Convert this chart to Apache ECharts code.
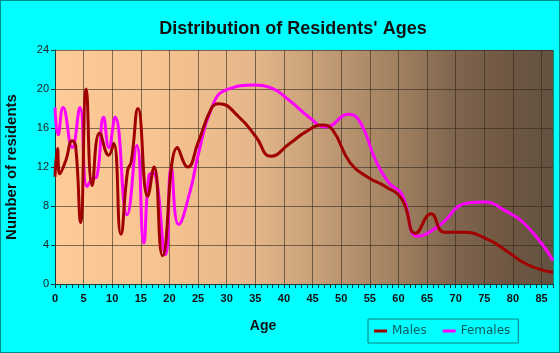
<!DOCTYPE html>
<html>
<head>
<meta charset="utf-8">
<script src="https://cdn.jsdelivr.net/npm/echarts@6/dist/echarts.min.js"></script>
<style>
  html, body { margin: 0; padding: 0; background: #00ffff; }
  #chart { width: 560px; height: 353px; box-sizing: border-box; border: 1px solid #008b8b; }
</style>
</head>
<body>
<div id="chart"></div>
<script>
// ages (x) and resident counts (y)
const maleAges = [0, 0.43, 0.83, 1.9, 3.0, 3.6, 4.47, 5.45, 6.5, 7.8, 9.4, 10.25, 11.5, 12.7, 13.3, 14.5, 16.2, 17.3, 18.8, 21.4, 23.2, 25, 27.4, 28.6, 32.2, 35.1, 37.7, 41, 43.8, 46.7, 48.5, 51.6, 54.8, 57.7, 60.6, 63, 65.7, 68, 71.5, 75.5, 78.4, 82.5, 87];
const maleCounts = [11.0, 13.9, 11.3, 12.7, 14.7, 14.2, 6.3, 20.0, 10.1, 15.5, 13.2, 14.4, 5.1, 11.7, 12.5, 18.0, 9.0, 12.0, 2.9, 14.0, 12.0, 14.5, 18.1, 18.5, 17.1, 15.1, 13.1, 14.4, 15.6, 16.3, 15.8, 12.4, 10.9, 10.0, 8.7, 5.2, 7.2, 5.3, 5.3, 4.6, 3.6, 2.0, 1.2];

const femaleAges = [0, 0.54, 1.41, 3.0, 4.35, 5.6, 6.5, 7.3, 8.5, 9.4, 10.5, 12.6, 14.3, 15.5, 16.4, 17.1, 19.3, 20.3, 21.6, 23.6, 25, 27.4, 29.9, 35.1, 37.4, 41, 44.4, 47.3, 51.3, 53.4, 56, 58.3, 60.6, 63.4, 66.9, 72.1, 75, 78.4, 82.5, 87];
const femaleCounts = [18.1, 15.3, 18.1, 14.0, 18.1, 10.0, 10.8, 11.0, 17.1, 14.0, 17.1, 7.1, 14.2, 4.2, 11.1, 11.4, 3.0, 12.0, 6.1, 9.5, 13.2, 18.1, 19.9, 20.4, 20.2, 18.8, 17.1, 16.1, 17.4, 16.5, 12.7, 10.4, 9.2, 4.9, 5.9, 8.3, 8.4, 7.6, 5.9, 2.4];

const pairs = (xs, ys) => xs.map((x, i) => [x, ys[i]]);

const chart = echarts.init(document.getElementById('chart'), null, { renderer: 'canvas' });

const font = 'Liberation Sans, Arial, sans-serif';

chart.setOption({
  animation: false,
  title: {
    text: "Distribution of Residents' Ages",
    left: 287,
    top: 14,
    textAlign: 'center',
    textStyle: { fontFamily: font, fontSize: 18, fontWeight: 'bold', color: '#111' }
  },
  legend: {
    left: 367,
    top: 318,
    width: 154,
    height: 25,
    padding: [6, 8, 6, 6],
    borderColor: '#0a8080',
    borderWidth: 1,
    icon: 'rect',
    itemWidth: 13,
    itemHeight: 3,
    itemGap: 16,
    textStyle: { fontFamily: 'DejaVu Sans, sans-serif', fontSize: 12, color: '#0e5c5c' },
    data: ['Males', 'Females']
  },
  grid: {
    left: 54,
    right: 6,
    top: 49,
    bottom: 68,
    outerBoundsMode: 'none',
    containLabel: false,
    show: true,
    borderWidth: 0,
    backgroundColor: new echarts.graphic.LinearGradient(0, 0, 1, 0, [
      { offset: 0, color: '#fdcb99' },
      { offset: 0.2, color: '#f8c490' },
      { offset: 0.4, color: '#e4b68a' },
      { offset: 0.5, color: '#cda47c' },
      { offset: 0.6, color: '#b4906d' },
      { offset: 0.7, color: '#9d7e5e' },
      { offset: 0.8, color: '#80664f' },
      { offset: 0.9, color: '#705842' },
      { offset: 1, color: '#625240' }
    ])
  },
  xAxis: {
    type: 'value',
    min: 0,
    max: 87,
    interval: 5,
    name: 'Age',
    nameLocation: 'middle',
    nameGap: 35,
    nameTextStyle: { fontFamily: font, fontSize: 14, fontWeight: 'bold', color: '#111', padding: [0, 82, 0, 0] },
    axisLine: { lineStyle: { color: '#1a3a3a', width: 1 } },
    axisTick: { show: true, length: 4, lineStyle: { color: '#1a3a3a' } },
    minorTick: { show: true, splitNumber: 5, length: 4, lineStyle: { color: '#1a3a3a' } },
    axisLabel: { fontFamily: font, fontSize: 11, fontWeight: 'bold', color: '#111', margin: 9, showMaxLabel: false },
    splitLine: { show: true, lineStyle: { color: 'rgba(50,40,30,0.6)', width: 1 } }
  },
  yAxis: {
    type: 'value',
    min: 0,
    max: 24,
    interval: 4,
    name: 'Number of residents',
    nameLocation: 'middle',
    nameGap: 36,
    nameTextStyle: { fontFamily: font, fontSize: 15, fontWeight: 'bold', color: '#111' },
    axisLine: { show: true, lineStyle: { color: '#1a3a3a', width: 1 } },
    axisTick: { show: true, length: 4, lineStyle: { color: '#1a3a3a' } },
    axisLabel: { fontFamily: font, fontSize: 11, color: '#222', margin: 6 },
    splitLine: { show: true, lineStyle: { color: 'rgba(50,40,30,0.6)', width: 1 } }
  },
  series: [
    {
      name: 'Males',
      type: 'line',
      smooth: 0.5,
      showSymbol: false,
      color: '#a00000',
      lineStyle: { width: 3, color: '#a00000' },
      data: pairs(maleAges, maleCounts)
    },
    {
      name: 'Females',
      type: 'line',
      smooth: 0.5,
      showSymbol: false,
      color: '#ff00ff',
      lineStyle: { width: 3, color: '#ff00ff' },
      data: pairs(femaleAges, femaleCounts),
      z: 1
    }
  ]
});
</script>
</body>
</html>
